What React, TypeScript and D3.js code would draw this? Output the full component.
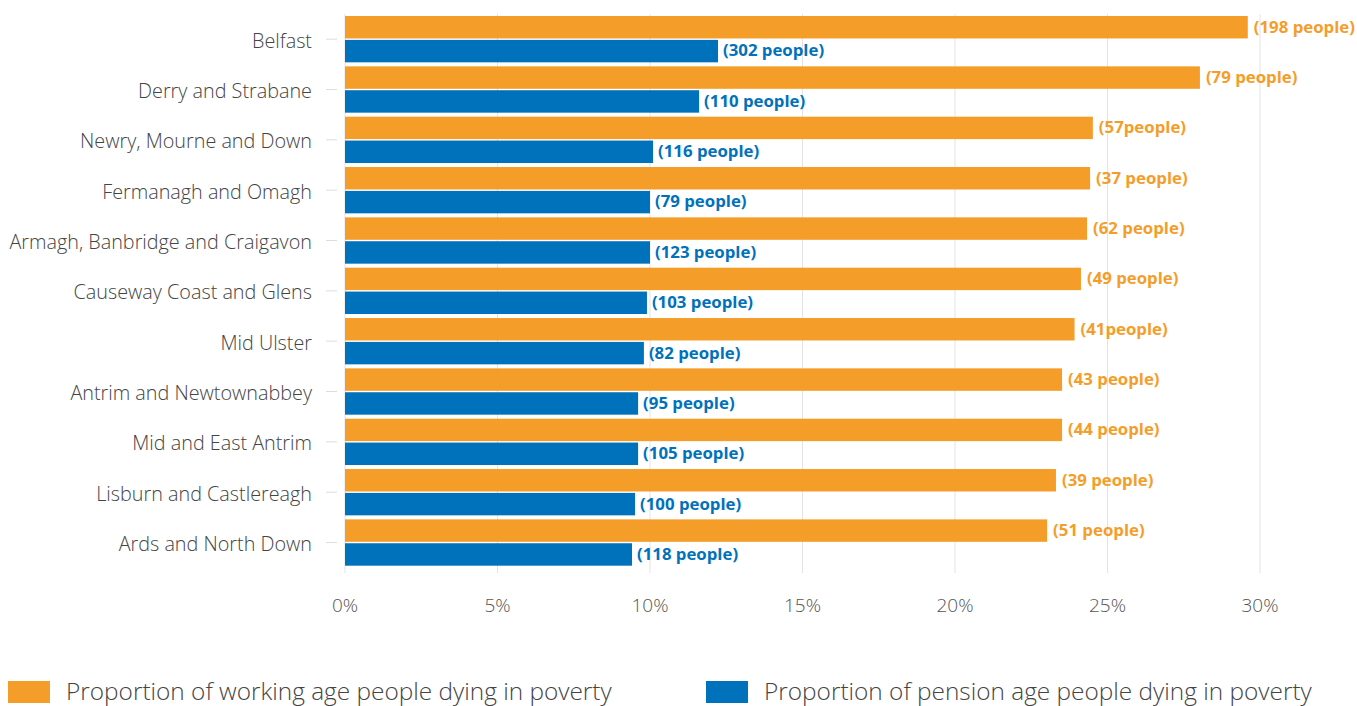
import React from "react";
import * as d3 from "d3";

const categories = [
  "Belfast",
  "Derry and Strabane",
  "Newry, Mourne and Down",
  "Fermanagh and Omagh",
  "Armagh, Banbridge and Craigavon",
  "Causeway Coast and Glens",
  "Mid Ulster",
  "Antrim and Newtownabbey",
  "Mid and East Antrim",
  "Lisburn and Castlereagh",
  "Ards and North Down",
];

const workingAge = [29.6, 28.03, 24.52, 24.43, 24.33, 24.13, 23.92, 23.51, 23.51, 23.31, 23.02];
const pensionAge = [12.23, 11.61, 10.1, 10.0, 10.0, 9.9, 9.8, 9.61, 9.61, 9.51, 9.41];

const workingLabels = [
  "(198 people)", "(79 people)", "(57people)", "(37 people)", "(62 people)",
  "(49 people)", "(41people)", "(43 people)", "(44 people)", "(39 people)", "(51 people)",
];
const pensionLabels = [
  "(302 people)", "(110 people)", "(116 people)", "(79 people)", "(123 people)",
  "(103 people)", "(82 people)", "(95 people)", "(105 people)", "(100 people)", "(118 people)",
];

const xTicks = [0, 5, 10, 15, 20, 25, 30];
const seriesNames = [
  "Proportion of working age people dying in poverty",
  "Proportion of pension age people dying in poverty",
];

const ORANGE = "#F59D29";
const BLUE = "#0071BB";
const FONT = "'Open Sans', 'Noto Sans', sans-serif";

export default function App() {
  const width = 1357;
  const height = 706;
  const x = d3.scaleLinear().domain([0, 30]).range([345, 1260]);
  const y = d3
    .scaleBand<string>()
    .domain(categories)
    .range([14, 567.7])
    .paddingInner(0.08)
    .paddingOuter(0.04);
  const sub = d3
    .scaleBand<string>()
    .domain(["w", "p"])
    .range([0, y.bandwidth()])
    .paddingInner(0.06);

  return (
    <div style={{ position: "absolute", left: 0, top: 0 }}>
      <svg width={width} height={height} style={{ display: "block" }}>
        <rect width={width} height={height} fill="#fff" />
        {xTicks.map((t) => (
          <line
            key={"g" + t}
            x1={x(t)}
            x2={x(t)}
            y1={14}
            y2={573}
            stroke="#e3e3e3"
            strokeWidth={1}
          />
        ))}
        {xTicks.map((t) => (
          <text
            key={"t" + t}
            x={x(t)}
            y={612}
            textAnchor="middle"
            fontFamily={FONT}
            fontWeight={300}
            fontSize={19}
            fill="#555"
          >
            {t + "%"}
          </text>
        ))}
        {categories.map((c, i) => {
          const y0 = y(c) as number;
          const cy = y0 + y.bandwidth() / 2;
          const wy = y0 + (sub("w") as number);
          const py = y0 + (sub("p") as number);
          return (
            <g key={c}>
              <line x1={326} x2={337} y1={cy} y2={cy} stroke="#ddd" strokeWidth={1} />
              <text
                x={312}
                y={cy + 1.5}
                dy="0.35em"
                textAnchor="end"
                fontFamily={FONT}
                fontWeight={300}
                fontSize={19.8}
                fill="#444"
              >
                {c}
              </text>
              <rect x={x(0)} y={wy} width={x(workingAge[i]) - x(0)} height={sub.bandwidth()} fill={ORANGE} />
              <rect x={x(0)} y={py} width={x(pensionAge[i]) - x(0)} height={sub.bandwidth()} fill={BLUE} />
              <text
                x={x(workingAge[i]) + 6}
                y={wy + sub.bandwidth() / 2 - 0.5}
                dy="0.35em"
                fontFamily={FONT}
                fontWeight={700}
                fontSize={16.8}
                fill={ORANGE}
              >
                {workingLabels[i]}
              </text>
              <text
                x={x(pensionAge[i]) + 5}
                y={py + sub.bandwidth() / 2 - 0.5}
                dy="0.35em"
                fontFamily={FONT}
                fontWeight={700}
                fontSize={16.8}
                fill={BLUE}
              >
                {pensionLabels[i]}
              </text>
            </g>
          );
        })}
        {seriesNames.map((s, i) => {
          const lx = i === 0 ? 8 : 706;
          return (
            <g key={s}>
              <rect x={lx} y={681} width={42} height={22} fill={i === 0 ? ORANGE : BLUE} />
              <text
                x={lx + 58}
                y={700}
                fontFamily={FONT}
                fontWeight={300}
                fontSize={24.4}
                fill="#444"
              >
                {s}
              </text>
            </g>
          );
        })}
      </svg>
    </div>
  );
}
